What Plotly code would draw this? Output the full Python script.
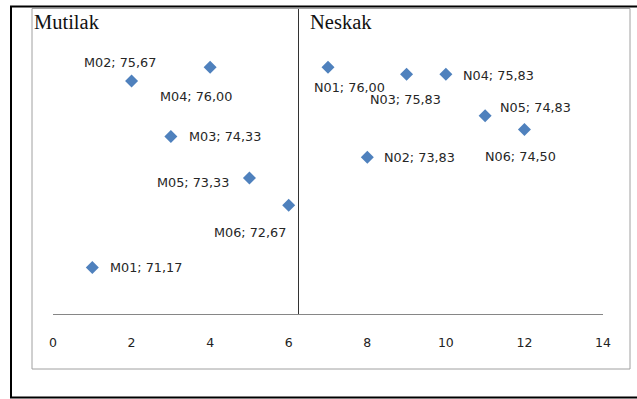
import plotly.graph_objects as go

# ---- data ----
labels = ["M01", "M02", "M03", "M04", "M05", "M06",
          "N01", "N02", "N03", "N04", "N05", "N06"]
x_vals = [1, 2, 3, 4, 5, 6, 7, 8, 9, 10, 11, 12]
y_vals = [71.17, 75.67, 74.33, 76.00, 73.33, 72.67,
          76.00, 73.83, 75.83, 75.83, 74.83, 74.50]
x_ticks = [0, 2, 4, 6, 8, 10, 12, 14]
group_titles = ["Mutilak", "Neskak"]
y_axis_crossing = 6.23

# label offsets (pixels): xanchor, xshift, yshift
label_pos = [
    ("left", 16, 0),
    ("center", -11.5, 18),
    ("left", 16, 0),
    ("center", -14.5, -29),
    ("right", -18, -4),
    ("center", -39, -27),
    ("center", 21, -20),
    ("left", 15, 0),
    ("center", -1.5, -25),
    ("left", 15, -1),
    ("left", 13, 8),
    ("center", -4, -27),
]

W, H = 637, 399
L, R, T, B = 53, 34, 8, 85
pw, ph = W - L - R, H - T - B


def px(xp):
    return (xp - L) / pw


def py(yp):
    return (H - B - yp) / ph


fig = go.Figure()
fig.add_trace(go.Scatter(
    x=x_vals, y=y_vals, mode="markers",
    marker=dict(symbol="diamond", size=10, color="#4F81BD"),
    hoverinfo="skip", showlegend=False,
))

annotations = []
for lab, xv, yv, (anc, xs, ys) in zip(labels, x_vals, y_vals, label_pos):
    annotations.append(dict(
        x=xv, y=yv, xref="x", yref="y",
        text=f"{lab}; {yv:.2f}".replace(".", ","),
        showarrow=False, xanchor=anc, yanchor="middle",
        xshift=xs, yshift=ys,
        font=dict(family="DejaVu Sans", size=12.8, color="#262626"),
    ))

for title, xp in zip(group_titles, [32, 308]):
    annotations.append(dict(
        x=px(xp), y=py(22), xref="paper", yref="paper",
        text=title, showarrow=False, xanchor="left", yanchor="middle",
        font=dict(family="Liberation Serif", size=20.5, color="#111"),
    ))

shapes = [
    dict(type="rect", xref="paper", yref="paper",
         x0=px(32), x1=px(630), y0=py(369), y1=py(8.5),
         line=dict(color="#A0A0A0", width=1)),
    dict(type="rect", xref="paper", yref="paper",
         x0=px(11), x1=px(645), y0=py(397.5), y1=py(6.5),
         line=dict(color="#000000", width=2)),
]

fig.update_layout(
    width=W, height=H,
    margin=dict(l=L, r=R, t=T, b=B),
    paper_bgcolor="white", plot_bgcolor="white",
    xaxis=dict(range=[0, 14], tickvals=x_ticks, ticks="", showgrid=False,
               zeroline=False, showline=True, linecolor="#868686", linewidth=1,
               ticklabelstandoff=17,
               tickfont=dict(family="DejaVu Sans", size=12.5, color="#222")),
    yaxis=dict(range=[70.05, 77.43], anchor="free", position=y_axis_crossing / 14,
               showline=True, linecolor="#333", linewidth=1,
               showticklabels=False, ticks="", showgrid=False, zeroline=False),
    annotations=annotations,
    shapes=shapes,
)

fig.write_html(
    "out.html",
    config={"displayModeBar": False, "staticPlot": True},
    post_script="document.body.style.margin='0';document.body.style.overflow='hidden';",
)
